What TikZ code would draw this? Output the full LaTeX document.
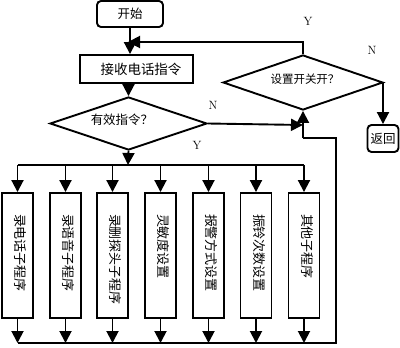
\documentclass[tikz,border=0pt]{standalone}
\usepackage{fontspec}
\newfontfamily\cjk{Noto Sans CJK SC}
\usetikzlibrary{arrows.meta,shapes.geometric}
\begin{document}
\begin{tikzpicture}[x=1pt,y=-1pt,
  line width=1.9pt,
  arr/.style={-{Triangle[width=12pt,length=12pt]}},
  cn/.style={font=\cjk\fontsize{12.5}{12.5}\selectfont},
  lbl/.style={font=\fontsize{12}{12}\selectfont},
  proc/.style={draw, minimum width=31pt, minimum height=125pt, inner sep=0pt},
  vtext/.style={font=\cjk\fontsize{13}{13}\selectfont, rotate=-90, anchor=west, inner sep=0pt},
]
\useasboundingbox (0,0) rectangle (400,348);
% top part
\node[draw, rounded corners=4pt, minimum width=66pt, minimum height=26pt, cn] (start) at (130,14) {开始};
\node[draw, minimum width=113pt, minimum height=28pt, cn, font=\cjk\fontsize{13.5}{13.5}\selectfont] (recv) at (136.5,69) {};
\node[cn, font=\cjk\fontsize{13.5}{13.5}\selectfont] (recvt) at (141,69) {接收电话指令};
\node[draw, diamond, minimum width=157pt, minimum height=53pt, inner sep=0pt] (valid) at (128.5,123.5) {};
\node[cn] (validt) at (122,120) {有效指令？};
\node[draw, diamond, minimum width=160pt, minimum height=55pt, inner sep=0pt] (setsw) at (303,82.5) {};
\node[font=\cjk\fontsize{11.5}{11.5}\selectfont] (setswt) at (305,79) {设置开关开？};
\node[draw, rounded corners=4pt, minimum width=31pt, minimum height=27pt, inner sep=0pt, cn] (ret) at (383,138.5) {返回};

\coordinate (j1) at (128,42);
\coordinate (up) at (303,42);
\coordinate (busT) at (128,165);
\coordinate (m) at (303,125);

\draw[arr] (start.south) -- (start.south |- recv.north);
\draw[arr] (setsw.north) -- (up) -- (j1);
\draw[arr] (valid.north |- recv.south) -- (valid.north);
\draw[arr] (valid.east) -- (m);
\draw[arr] (setsw.east) -- (setsw.east -| ret.north) -- (ret.north);
\draw[arr] (valid.south) -- (busT);

% processes
\foreach \i/\x/\t in {1/17.5/录电话子程序, 2/65.5/录语音子程序, 3/112.5/录删探头子程序, 4/160.5/灵敏度设置, 5/208.5/报警方式设置, 6/256/振铃次数设置, 7/304/其他子程序}{
  \node[proc] (b\i) at (\x,255.5) {};
  \node[vtext] (t\i) at ([xshift=3pt,yshift=-21pt]b\i.north) {\t};
  \coordinate (bt\i) at (\x,165);
  \coordinate (bb\i) at (\x,343);
  \draw[arr] (bt\i) -- (b\i.north);
  \draw[arr] (b\i.south) -- (bb\i);
}
\draw (bt1) -- (bt7);
\coordinate (br) at (336,343);
\coordinate (rr) at (336,138);
\coordinate (rl) at (303,138);
\draw (bb1) -- (br) -- (rr) -- (rl);
\draw[arr] (rl) -- (setsw.south);

% labels
\node[lbl] (lY1) at (308,21) {Y};
\node[lbl] (lN1) at (372,50) {N};
\node[lbl] (lN2) at (213,105) {N};
\node[lbl] (lY2) at (197,145) {Y};
\end{tikzpicture}
\end{document}
